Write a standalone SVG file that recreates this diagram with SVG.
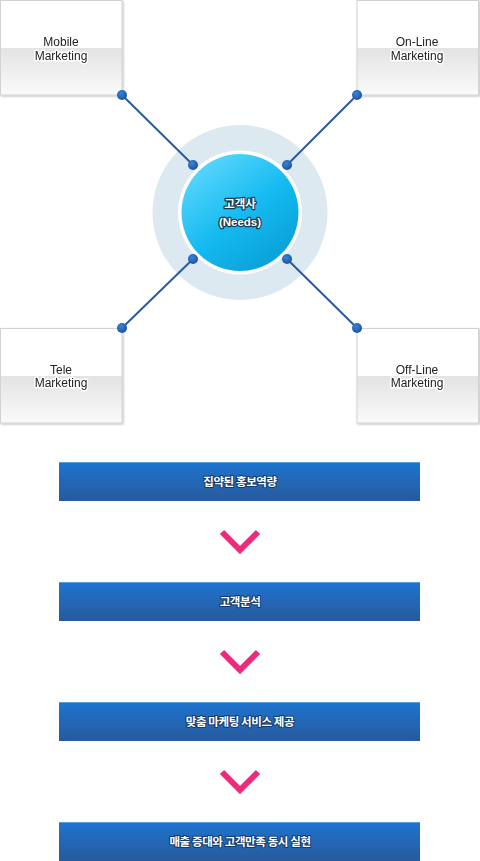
<svg xmlns="http://www.w3.org/2000/svg" width="480" height="861" viewBox="0 0 480 861">
<defs>
<linearGradient id="boxg" x1="0" y1="0" x2="0" y2="1">
<stop offset="0" stop-color="#ffffff"/>
<stop offset="0.5" stop-color="#ffffff"/>
<stop offset="0.5" stop-color="#e3e3e3"/>
<stop offset="1" stop-color="#fafafa"/>
</linearGradient>
<linearGradient id="barg" x1="0" y1="0" x2="0" y2="1">
<stop offset="0" stop-color="#1d74d0"/>
<stop offset="1" stop-color="#285a9c"/>
</linearGradient>
<linearGradient id="circg" x1="0.2" y1="0.1" x2="0.85" y2="0.95">
<stop offset="0" stop-color="#55d4fc"/>
<stop offset="0.5" stop-color="#14baf0"/>
<stop offset="1" stop-color="#089ed6"/>
</linearGradient>
<radialGradient id="dotg" cx="0.4" cy="0.35" r="0.7">
<stop offset="0" stop-color="#3a84d8"/>
<stop offset="1" stop-color="#1a4f9a"/>
</radialGradient>
<filter id="sh" x="-10%" y="-10%" width="125%" height="125%">
<feGaussianBlur in="SourceAlpha" stdDeviation="1"/>
<feOffset dx="1" dy="1"/>
<feComponentTransfer><feFuncA type="linear" slope="0.25"/></feComponentTransfer>
<feMerge><feMergeNode/><feMergeNode in="SourceGraphic"/></feMerge>
</filter>
</defs>
<style>
.box{fill:url(#boxg);stroke:#d2d2d2;stroke-width:1}
.bt{font-family:"Liberation Sans","Noto Sans",sans-serif;font-size:12px;fill:#222;text-anchor:middle;stroke:#ffffff;stroke-width:3;paint-order:stroke;stroke-linejoin:round}
.line{stroke:#2a5aa0;stroke-width:2;fill:none}
.dot{fill:url(#dotg)}
.bar{fill:url(#barg)}
.barhl{fill:#5a9ee0}
.bar-t{font-family:"Noto Sans CJK KR","Noto Sans",sans-serif;font-size:11.5px;font-weight:bold;fill:#ffffff;text-anchor:middle;stroke:#123a6a;stroke-width:2;paint-order:stroke;stroke-linejoin:round;letter-spacing:-0.4px}
.ct{font-family:"Liberation Sans","Noto Sans CJK KR",sans-serif;font-size:11.5px;font-weight:bold;fill:#ffffff;text-anchor:middle;stroke:#173a52;stroke-width:2.5;paint-order:stroke;stroke-linejoin:round}
.chev{fill:none;stroke:#ee2a7d;stroke-width:6;stroke-linejoin:miter;stroke-linecap:butt}
</style>

<g id="center">
<circle cx="240" cy="212.5" r="87.5" fill="#dde9f1"/>
<circle cx="240" cy="212.5" r="62" fill="#ffffff"/>
<circle cx="240" cy="212.5" r="58.5" fill="url(#circg)"/>
<text class="ct" x="240" y="208" font-family="'Noto Sans CJK KR',sans-serif">고객사</text>
<text class="ct" x="240" y="226">(Needs)</text>
</g>

<g id="connectors">
<line class="line" x1="122" y1="95" x2="193" y2="165"/>
<line class="line" x1="357" y1="95" x2="287" y2="165"/>
<line class="line" x1="122" y1="328" x2="193" y2="259"/>
<line class="line" x1="357" y1="328" x2="287" y2="259"/>
</g>

<g id="mobile" filter="url(#sh)">
<rect class="box" x="0.5" y="0.5" width="121.5" height="94.5"/>
<text class="bt" x="61" y="46">Mobile</text>
<text class="bt" x="61" y="59.5">Marketing</text>
</g>
<g id="online" filter="url(#sh)">
<rect class="box" x="357" y="0.5" width="121.5" height="94.5"/>
<text class="bt" x="417" y="46">On-Line</text>
<text class="bt" x="417" y="59.5">Marketing</text>
</g>
<g id="tele" filter="url(#sh)">
<rect class="box" x="0.5" y="328.5" width="121.5" height="94.5"/>
<text class="bt" x="61" y="373.5">Tele</text>
<text class="bt" x="61" y="387">Marketing</text>
</g>
<g id="offline" filter="url(#sh)">
<rect class="box" x="357" y="328.5" width="121.5" height="94.5"/>
<text class="bt" x="417" y="373.5">Off-Line</text>
<text class="bt" x="417" y="387">Marketing</text>
</g>

<g id="dots">
<circle class="dot" cx="122" cy="95" r="5"/>
<circle class="dot" cx="357" cy="95" r="5"/>
<circle class="dot" cx="122" cy="328" r="5"/>
<circle class="dot" cx="357" cy="328" r="5"/>
<circle class="dot" cx="193" cy="165" r="5"/>
<circle class="dot" cx="287" cy="165" r="5"/>
<circle class="dot" cx="193" cy="259" r="5"/>
<circle class="dot" cx="287" cy="259" r="5"/>
</g>

<g id="step1">
<rect class="bar" x="59" y="462" width="361" height="39"/>
<rect class="barhl" x="59" y="462" width="361" height="1"/>
<text class="bar-t" x="240" y="485.5">집약된 홍보역량</text>
</g>
<g id="step2">
<rect class="bar" x="59" y="582" width="361" height="39"/>
<rect class="barhl" x="59" y="582" width="361" height="1"/>
<text class="bar-t" x="240" y="605.5">고객분석</text>
</g>
<g id="step3">
<rect class="bar" x="59" y="702" width="361" height="39"/>
<rect class="barhl" x="59" y="702" width="361" height="1"/>
<text class="bar-t" x="240" y="725.5">맞춤 마케팅 서비스 제공</text>
</g>
<g id="step4">
<rect class="bar" x="59" y="822" width="361" height="39"/>
<rect class="barhl" x="59" y="822" width="361" height="1"/>
<text class="bar-t" x="240" y="845.5">매출 증대와 고객만족 동시 실현</text>
</g>

<g id="arrows">
<path class="chev" d="M222,532 L240,550 L258,532"/>
<path class="chev" d="M222,652 L240,670 L258,652"/>
<path class="chev" d="M222,772 L240,790 L258,772"/>
</g>
</svg>
